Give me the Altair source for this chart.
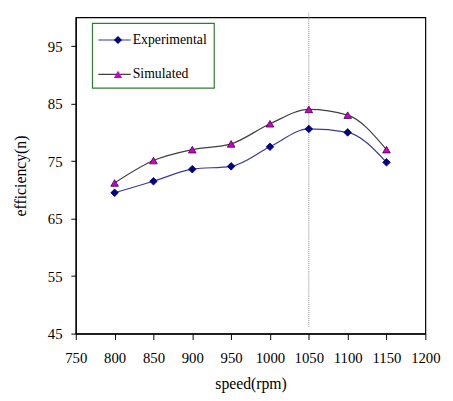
import altair as alt
import pandas as pd

speed = [800, 850, 900, 950, 1000, 1050, 1100, 1150]
experimental = [69.5, 71.5, 73.6, 74.1, 77.5, 80.6, 80.0, 74.8]
simulated = [71.2, 75.1, 77.0, 78.0, 81.5, 84.0, 83.0, 77.0]
series_names = ["Experimental", "Simulated"]
x_ticks = [750, 800, 850, 900, 950, 1000, 1050, 1100, 1150, 1200]
y_ticks = [45, 55, 65, 75, 85, 95]
ref_speed = [1050]
ref_low = [46.2]
ref_high = [100.9]

rows = []
for s, e, m in zip(speed, experimental, simulated):
    rows.append({"speed": s, "efficiency": e, "series": series_names[0]})
    rows.append({"speed": s, "efficiency": m, "series": series_names[1]})
df = pd.DataFrame(rows)
ref = pd.DataFrame({"speed": ref_speed, "lo": ref_low, "hi": ref_high})

FONT = "Liberation Serif"
LINE_COLORS = ["#3a3a9a", "#404040"]

xscale = alt.Scale(domain=[750, 1200], nice=False)
yscale = alt.Scale(domain=[45, 100], nice=False, zero=False)

xaxis = alt.Axis(values=x_ticks, grid=False, tickSize=6, labelPadding=11,
                 format="d", labelOverlap=False, labelFlush=False, titlePadding=11)
yaxis = alt.Axis(values=y_ticks, grid=False, tickSize=5, labelPadding=9,
                 format="d", labelOverlap=False, titlePadding=19)

xenc = alt.X("speed:Q", scale=xscale, title="speed(rpm)", axis=xaxis)
yenc = alt.Y("efficiency:Q", scale=yscale, title="efficiency(n)", axis=yaxis)

rule = alt.Chart(ref).mark_rule(color="#888888", strokeDash=[1, 1], strokeWidth=1,
                                clip=False).encode(
    x=alt.X("speed:Q", scale=xscale, title="speed(rpm)", axis=xaxis),
    y=alt.Y("lo:Q", scale=yscale, title="efficiency(n)", axis=yaxis),
    y2="hi:Q",
)

legend_box = alt.Chart(ref).mark_rect(fill="white", stroke="#2e7d32", strokeWidth=1.2).encode(
    x=alt.value(17), x2=alt.value(141), y=alt.value(6), y2=alt.value(72)
)
legend_line1 = alt.Chart(ref).mark_rule(color=LINE_COLORS[0], strokeWidth=1.2).encode(
    x=alt.value(23), x2=alt.value(56), y=alt.value(23)
)
legend_line2 = alt.Chart(ref).mark_rule(color=LINE_COLORS[1], strokeWidth=1.2).encode(
    x=alt.value(23), x2=alt.value(56), y=alt.value(58)
)

lines = alt.Chart(df).mark_line(interpolate="monotone", strokeWidth=1.2).encode(
    x=xenc, y=yenc,
    stroke=alt.Stroke("series:N", scale=alt.Scale(domain=series_names,
                                                 range=LINE_COLORS),
                      legend=None),
    detail="series:N",
)

points = alt.Chart(df).mark_point(filled=True, opacity=1, size=60, strokeWidth=0.8).encode(
    x=xenc, y=yenc,
    shape=alt.Shape("series:N", scale=alt.Scale(domain=series_names,
                                               range=["diamond", "triangle-up"]),
                    legend=alt.Legend(title=None, orient="none", legendX=36, legendY=16,
                                      padding=0, rowPadding=21, symbolSize=70,
                                      labelOffset=8,
                                      labelFont=FONT, labelFontSize=14,
                                      labelColor="black", symbolStrokeWidth=0.8)),
    fill=alt.Fill("series:N", scale=alt.Scale(domain=series_names,
                                             range=["#000080", "#cc00cc"]),
                  legend=None),
    stroke=alt.Stroke("series:N", scale=alt.Scale(domain=series_names,
                                                 range=["#000080", "#400040"]),
                      legend=None),
)

chart = alt.layer(rule, legend_box, legend_line1, legend_line2, lines, points).resolve_scale(
    stroke="independent"
).properties(width=356, height=322, padding={"left": 5, "top": 0, "right": 5, "bottom": 5}
).configure_view(
    stroke="black", strokeWidth=1.2
).configure_axis(
    labelFont=FONT, labelFontSize=15, labelColor="black",
    titleFont=FONT, titleFontSize=16, titleFontWeight="normal", titleColor="black",
    domainColor="black", tickColor="black", domainWidth=1.2, labelOverlap=False
)

chart.save("out.html", embed_options={"renderer": "svg", "actions": False})
